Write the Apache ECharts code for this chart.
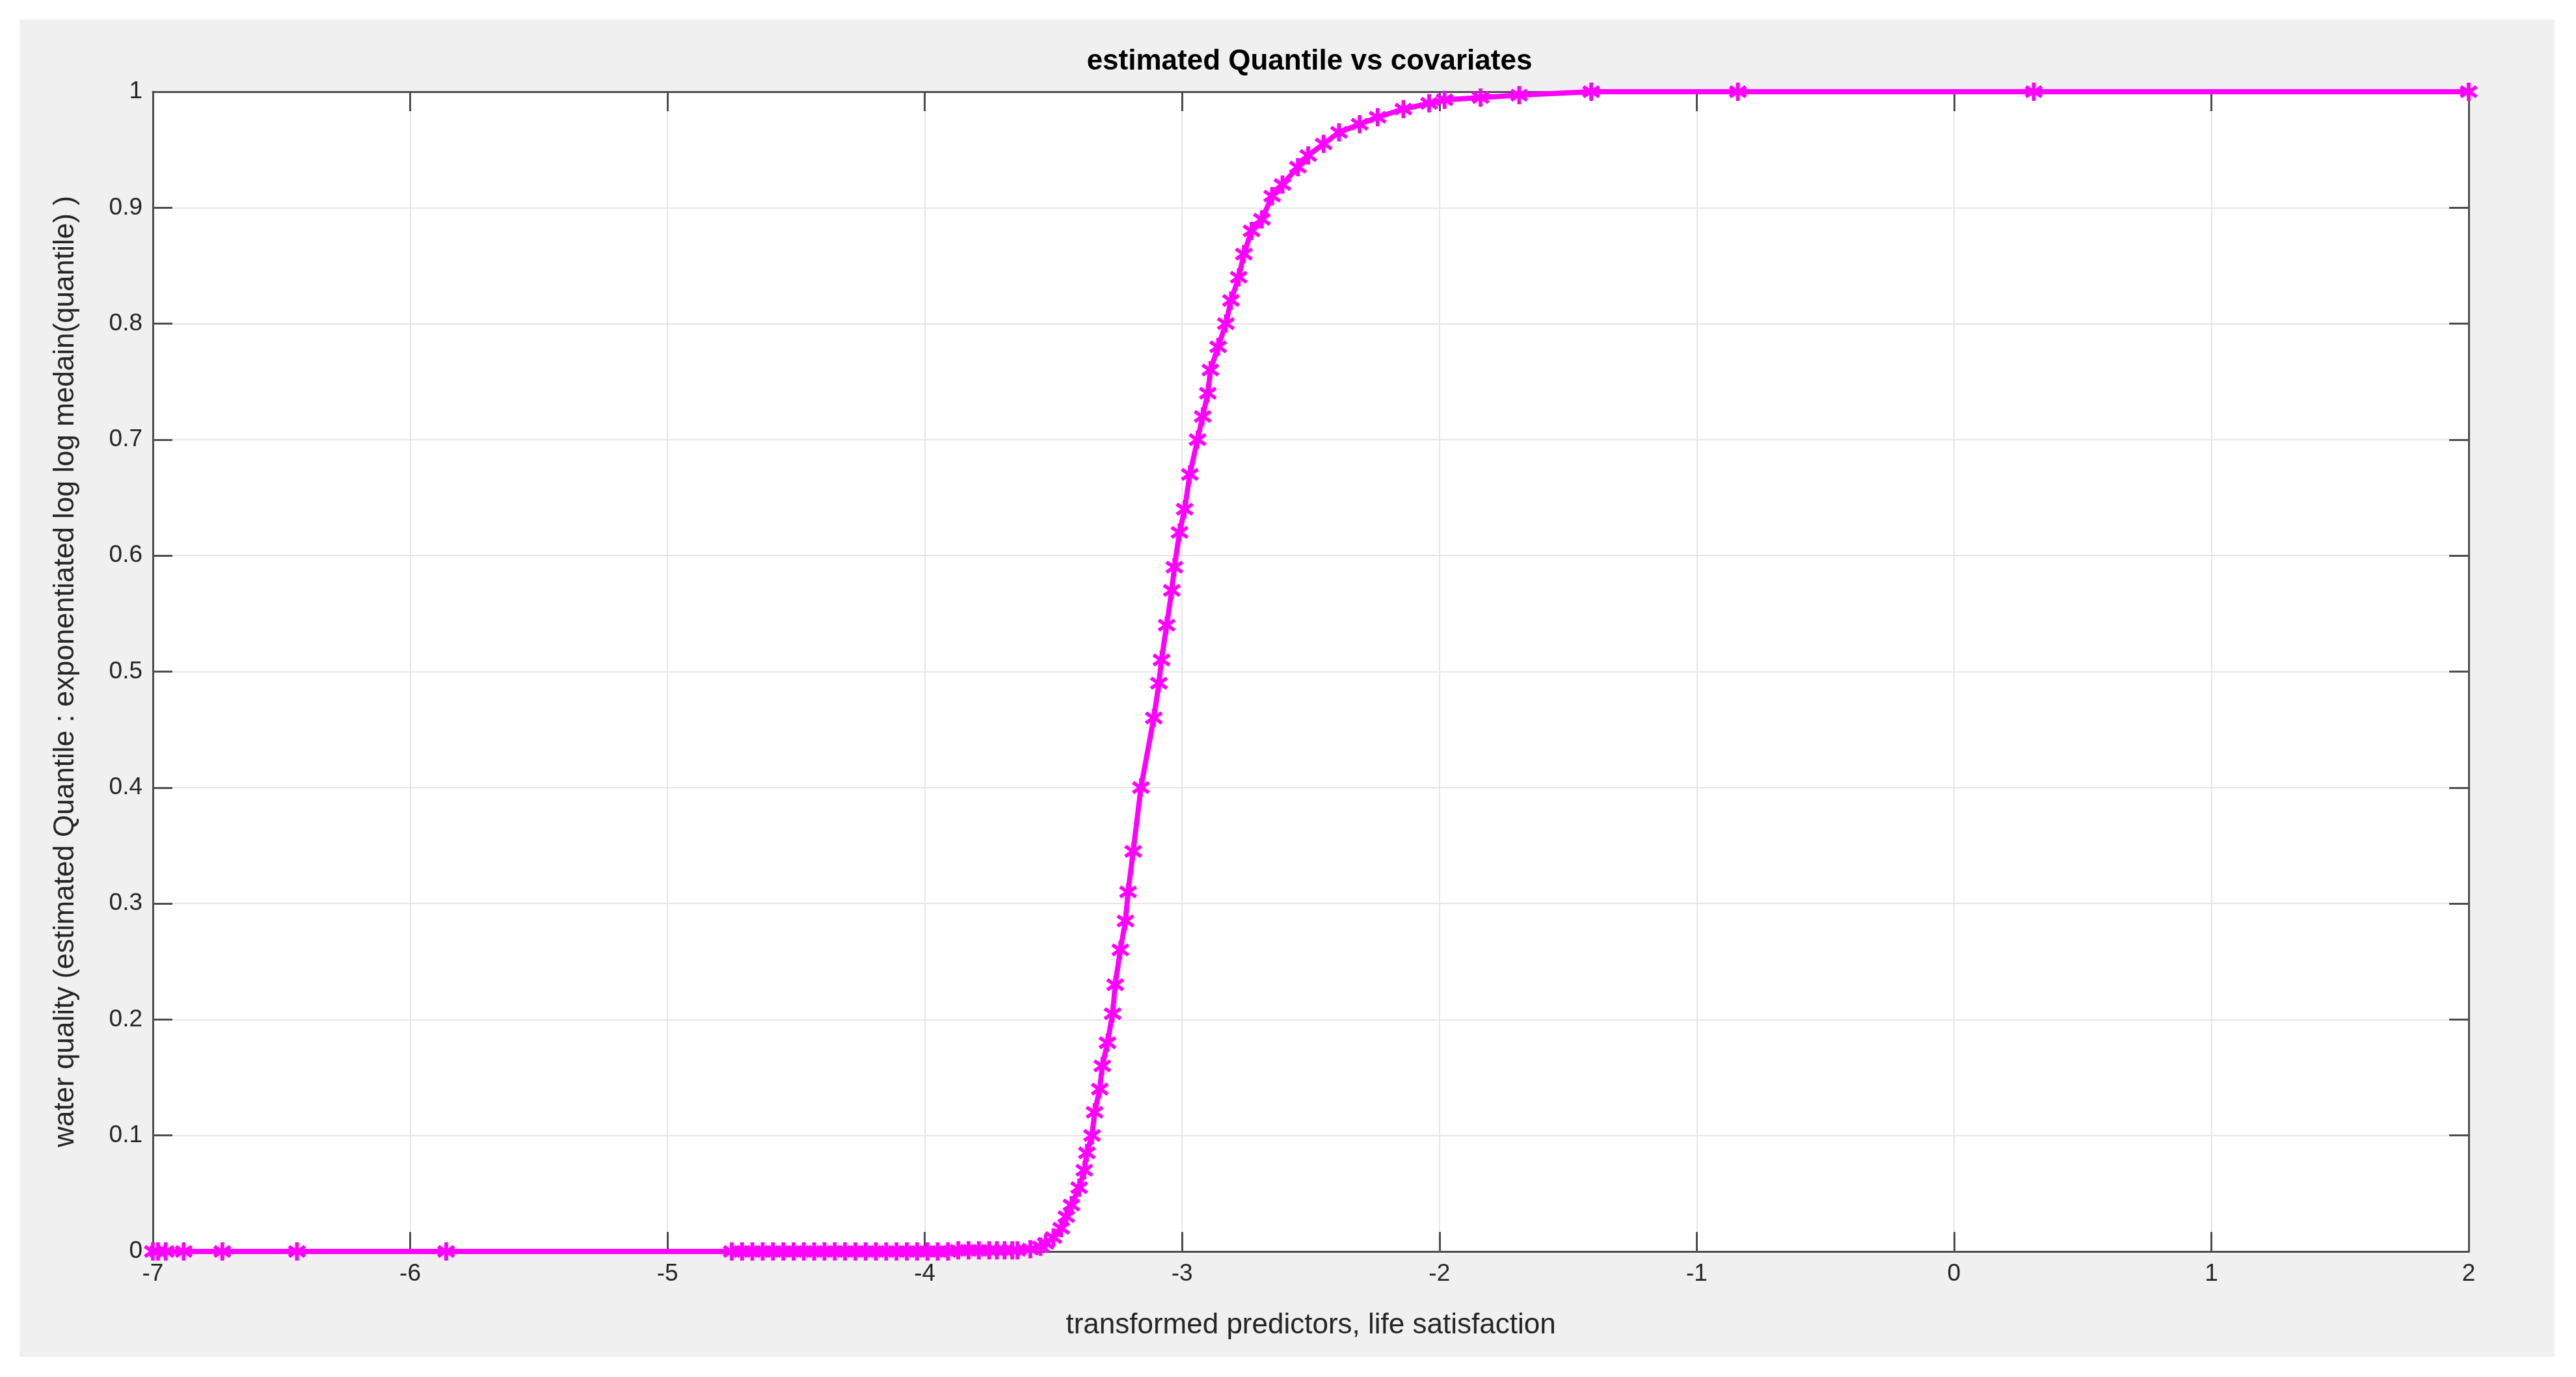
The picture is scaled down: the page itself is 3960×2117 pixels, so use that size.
<!DOCTYPE html>
<html>
<head>
<meta charset="utf-8">
<script src="https://cdn.jsdelivr.net/npm/echarts@6/dist/echarts.min.js"></script>
<style>
  html, body { margin: 0; padding: 0; background: #fff; }
  #chart { width: 3960px; height: 2117px; }
</style>
</head>
<body>
<div id="chart"></div>
<script>
// x positions (transformed predictors)
const xValues = [
  -7.0, -6.98, -6.95, -6.88, -6.73, -6.44, -5.86,
  -4.75, -4.71, -4.67, -4.63, -4.59, -4.55, -4.51, -4.47, -4.43, -4.39, -4.35,
  -4.31, -4.27, -4.23, -4.19, -4.15, -4.11, -4.07, -4.03, -3.99, -3.95, -3.91,
  -3.87, -3.83, -3.79, -3.75, -3.72, -3.69, -3.66, -3.64,
  -3.59, -3.55, -3.53, -3.50, -3.47, -3.45, -3.43, -3.40, -3.38, -3.37, -3.35,
  -3.34, -3.32, -3.31, -3.29, -3.27, -3.26, -3.24, -3.22, -3.21, -3.19, -3.16,
  -3.11, -3.09, -3.08, -3.06, -3.04, -3.03, -3.01, -2.99, -2.97, -2.94, -2.92,
  -2.90, -2.89, -2.86, -2.83, -2.81, -2.78, -2.76, -2.73, -2.69, -2.65, -2.61,
  -2.55, -2.51, -2.45, -2.39, -2.31, -2.24, -2.14, -2.04, -1.98, -1.84, -1.69,
  -1.41, -0.84, 0.31, 2.0
];
// estimated quantile at each x
const yValues = [
  0, 0, 0, 0, 0, 0, 0,
  0, 0, 0, 0, 0, 0, 0, 0, 0, 0, 0,
  0, 0, 0, 0, 0, 0, 0, 0, 0, 0, 0,
  0.001, 0.001, 0.001, 0.001, 0.001, 0.001, 0.001, 0.001,
  0.002, 0.004, 0.007, 0.012, 0.02, 0.03, 0.04, 0.055, 0.07, 0.085, 0.10,
  0.12, 0.14, 0.16, 0.18, 0.205, 0.23, 0.26, 0.285, 0.31, 0.345, 0.40,
  0.46, 0.49, 0.51, 0.54, 0.57, 0.59, 0.62, 0.64, 0.67, 0.70, 0.72,
  0.74, 0.76, 0.78, 0.80, 0.82, 0.84, 0.86, 0.88, 0.89, 0.91, 0.92,
  0.935, 0.945, 0.955, 0.965, 0.972, 0.978, 0.985, 0.99, 0.993, 0.995, 0.997,
  1, 1, 1, 1
];
const xTicks = [-7, -6, -5, -4, -3, -2, -1, 0, 1, 2];
const yTicks = [0, 0.1, 0.2, 0.3, 0.4, 0.5, 0.6, 0.7, 0.8, 0.9, 1];

const points = xValues.map((x, i) => [x, yValues[i]]);
const star = 'path://M4,0H6V3.3L8.6,1.4L9.8,3L7,5L9.8,7L8.6,8.6L6,6.7V10H4V6.7L1.4,8.6L0.2,7L3,5L0.2,3L1.4,1.4L4,3.3Z';

const chart = echarts.init(document.getElementById('chart'));
const fontFam = 'Helvetica, Arial, "Liberation Sans", sans-serif';
const axisCommon = {
  axisLine: { show: true, onZero: false, lineStyle: { color: '#4d4d4d', width: 3 } },
  axisTick: { show: true, inside: true, length: 30, lineStyle: { color: '#4d4d4d', width: 3 } },
  axisLabel: { color: '#262626', fontSize: 37, fontFamily: fontFam }
};

chart.setOption({
  animation: false,
  graphic: [{
    type: 'rect', z: -10,
    shape: { x: 30, y: 30, width: 3897, height: 2056 },
    style: { fill: '#f0f0f0' }
  }],
  title: {
    text: 'estimated Quantile vs covariates',
    left: 2008, top: 68, textAlign: 'center',
    textStyle: { fontSize: 44, fontWeight: 'bold', color: '#000', fontFamily: fontFam }
  },
  grid: {
    left: 235, right: 165, top: 141, bottom: 193,
    show: true, backgroundColor: '#fff', borderWidth: 0
  },
  xAxis: [
    Object.assign({}, axisCommon, {
      type: 'value', min: -7, max: 2, interval: 1,
      name: 'transformed predictors, life satisfaction',
      nameLocation: 'middle', nameGap: 92,
      nameTextStyle: { fontSize: 44, color: '#262626', fontFamily: fontFam },
      axisLabel: Object.assign({}, axisCommon.axisLabel, { margin: 16 }),
      splitLine: { show: true, lineStyle: { color: '#e6e6e6', width: 2 } }
    }),
    Object.assign({}, axisCommon, {
      type: 'value', min: -7, max: 2, interval: 1, position: 'top',
      axisLabel: { show: false }, splitLine: { show: false }
    })
  ],
  yAxis: [
    Object.assign({}, axisCommon, {
      type: 'value', min: 0, max: 1, interval: 0.1,
      name: 'water quality (estimated Quantile : exponentiated log log medain(quantile) )',
      nameLocation: 'middle', nameGap: 112,
      nameTextStyle: { fontSize: 44, color: '#262626', fontFamily: fontFam },
      axisLabel: Object.assign({}, axisCommon.axisLabel, {
        margin: 16, formatter: v => String(Math.round(v * 10) / 10)
      }),
      splitLine: { show: true, lineStyle: { color: '#e6e6e6', width: 2 } }
    }),
    Object.assign({}, axisCommon, {
      type: 'value', min: 0, max: 1, interval: 0.1, position: 'right',
      axisLabel: { show: false }, splitLine: { show: false }
    })
  ],
  series: [{
    type: 'line',
    data: points,
    symbol: star,
    symbolSize: 28,
    showAllSymbol: true,
    lineStyle: { color: '#ff00ff', width: 8 },
    itemStyle: { color: '#ff00ff', borderWidth: 0 },
    z: 5
  }]
});
</script>
</body>
</html>
